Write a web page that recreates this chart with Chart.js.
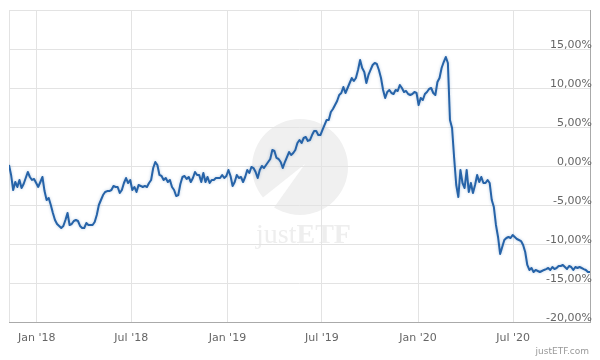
<!DOCTYPE html>
<html>
<head>
<meta charset="utf-8">
<title>justETF performance</title>
<style>
  html,body{margin:0;padding:0;background:#fff}
  #wrap{position:relative;width:600px;height:360px}
</style>
<script src="https://cdn.jsdelivr.net/npm/chart.js@4.4.1/dist/chart.umd.min.js"></script>
</head>
<body>
<div id="wrap"><canvas id="chart" width="600" height="360"></canvas></div>
<script>
// performance in %, one reading every 4 days from START
var START = '2017-11-09';
var STEP_DAYS = 4;
var perf = [
  0.13, -1.15, -3.08, -2.05, -2.69, -1.79, -2.82, -2.31, -1.54, -0.77,
  -1.41, -1.79, -1.67, -2.18, -2.69, -2.05, -1.41, -3.21, -4.36, -4.10,
  -5.00, -6.03, -6.92, -7.44, -7.69, -7.95, -7.69, -6.92, -6.03, -7.56,
  -7.44, -7.05, -6.92, -7.05, -7.69, -7.95, -7.95, -7.31, -7.56, -7.56,
  -7.56, -7.18, -6.28, -5.00, -4.36, -3.72, -3.33, -3.21, -3.21, -3.08,
  -2.56, -2.69, -2.69, -3.46, -3.08, -2.18, -1.54, -2.18, -1.79, -3.08,
  -2.69, -3.33, -2.44, -2.56, -2.69, -2.56, -2.69, -2.18, -1.79, -0.26,
  0.51, 0.13, -1.15, -1.28, -1.79, -1.54, -2.05, -1.79, -2.69, -3.08,
  -3.85, -3.72, -2.31, -1.41, -1.28, -1.67, -1.41, -2.05, -1.54, -0.77,
  -1.15, -1.15, -2.05, -0.90, -2.05, -1.41, -2.18, -1.79, -1.79, -1.54,
  -1.54, -1.54, -1.15, -1.54, -1.28, -0.51, -1.28, -2.56, -2.05, -1.15,
  -1.54, -1.41, -2.05, -1.41, -0.51, -0.90, -0.13, -0.26, -0.77, -1.54,
  -0.51, 0.00, -0.26, 0.13, 0.51, 0.90, 2.05, 1.92, 1.03, 0.90,
  0.51, -0.26, 0.51, 1.15, 1.79, 1.41, 1.67, 2.05, 2.95, 3.33,
  2.95, 3.59, 3.72, 3.21, 3.33, 3.97, 4.49, 4.49, 3.97, 3.97,
  4.62, 5.26, 5.90, 5.90, 6.92, 7.31, 7.82, 8.33, 9.10, 9.36,
  10.13, 9.36, 10.00, 10.64, 11.28, 10.90, 11.28, 12.31, 13.59, 12.56,
  12.05, 10.64, 11.67, 12.31, 12.95, 13.21, 13.08, 12.31, 11.28, 9.74,
  8.72, 9.49, 9.74, 9.36, 9.23, 9.74, 9.62, 10.38, 10.00, 9.49,
  9.62, 9.23, 9.10, 9.23, 9.49, 9.36, 7.82, 8.72, 8.46, 9.23,
  9.49, 9.87, 10.00, 9.36, 9.10, 10.77, 11.28, 12.56, 13.33, 13.97,
  13.21, 5.90, 4.87, 1.03, -2.44, -3.97, -0.51, -2.18, -2.82, -0.51,
  -3.33, -2.18, -3.46, -2.44, -1.15, -2.05, -1.41, -2.18, -2.18, -1.79,
  -2.18, -4.36, -5.26, -7.56, -9.10, -11.28, -10.38, -9.49, -9.23, -9.10,
  -9.23, -8.85, -9.10, -9.36, -9.49, -9.62, -10.13, -11.03, -12.69, -13.33,
  -13.08, -13.59, -13.33, -13.46, -13.59, -13.46, -13.33, -13.21, -13.08, -13.33,
  -12.95, -13.21, -13.08, -12.82, -12.82, -12.69, -12.95, -13.21, -12.82, -12.95,
  -13.33, -12.95, -13.08, -12.95, -13.08, -13.21, -13.33, -13.59, -13.59
];
var tickDates = ['2018-01-01', '2018-07-01', '2019-01-01', '2019-07-01', '2020-01-01', '2020-07-01'];
var tickLabels = ["Jan '18", "Jul '18", "Jan '19", "Jul '19", "Jan '20", "Jul '20"];
var yMin = -20, yMax = 20, yStep = 5;

(function(){
  function dayOf(d){ return Math.round((Date.parse(d) - Date.parse(START)) / 86400000) }
  function fmtPct(v){ return v.toFixed(2).replace('.', ',') + '%' }
  var tickDays = tickDates.map(dayOf);
  var points = perf.map(function(v, i){ return { x: i * STEP_DAYS, y: v } });

  var watermark = {
    id: 'watermark',
    beforeDraw: function(chart){
      var c = chart.ctx;
      c.save();
      c.fillStyle = '#f0f0f0';
      c.beginPath(); c.arc(300, 167, 48, 0, Math.PI * 2); c.fill();
      c.fillStyle = '#fff';
      c.beginPath(); c.moveTo(305, 164); c.lineTo(256, 203); c.lineTo(268, 216); c.closePath(); c.fill();
      c.fillStyle = '#eeeeee';
      c.textBaseline = 'alphabetic';
      c.font = '28px "Liberation Serif", "DejaVu Serif", serif';
      c.fillText('just', 256, 243);
      var w = c.measureText('just').width;
      c.font = 'bold 28px "Liberation Serif", "DejaVu Serif", serif';
      c.fillText('ETF', 256 + w, 243);
      c.restore();
    },
    beforeDatasetDraw: function(chart){
      var c = chart.ctx;
      c.save();
      c.shadowColor = 'rgba(40,100,170,0.35)';
      c.shadowBlur = 3;
    },
    afterDatasetDraw: function(chart){ chart.ctx.restore() },
    afterDraw: function(chart){
      var c = chart.ctx;
      c.save();
      c.fillStyle = '#999';
      c.font = '9px "DejaVu Sans", sans-serif';
      c.textAlign = 'right';
      c.textBaseline = 'middle';
      c.fillText('justETF.com', 589, 352);
      c.restore();
    }
  };

  Chart.defaults.font.family = '"DejaVu Sans", sans-serif';
  new Chart(document.getElementById('chart').getContext('2d'), {
    type: 'line',
    data: { datasets: [{
      data: points,
      borderColor: '#2663a8',
      borderWidth: 2,
      borderJoinStyle: 'round',
      pointRadius: 0,
      tension: 0,
      fill: false
    }]},
    options: {
      responsive: false,
      devicePixelRatio: 1,
      animation: false,
      layout: { padding: { left: 9, right: 10, top: 10, bottom: 16 } },
      plugins: { legend: { display: false }, tooltip: { enabled: false } },
      scales: {
        x: {
          type: 'linear',
          min: 0,
          max: (perf.length - 1) * STEP_DAYS,
          afterBuildTicks: function(s){ s.ticks = [{ value: 0 }].concat(tickDays.map(function(d){ return { value: d } })) },
          afterFit: function(s){ s.height = 22; s.paddingLeft = 0; s.paddingRight = 0 },
          ticks: {
            autoSkip: false, maxRotation: 0, padding: 10, color: '#666', font: { size: 11 },
            callback: function(v){ var i = tickDays.indexOf(v); return i < 0 ? '' : tickLabels[i] }
          },
          grid: { color: '#e3e3e3', drawTicks: false },
          border: { display: true, color: '#aaa' }
        },
        y: {
          position: 'right',
          min: yMin,
          max: yMax,
          afterFit: function(s){ s.width = 0; s.paddingTop = 0; s.paddingBottom = 0 },
          ticks: {
            stepSize: yStep, mirror: true, padding: 2, labelOffset: -4, color: '#666', font: { size: 11 },
            callback: function(v){ return v === yMax ? '' : fmtPct(v) }
          },
          grid: { color: '#e3e3e3', drawTicks: false },
          border: { display: true, color: '#aaa' }
        }
      }
    },
    plugins: [watermark]
  });
})();
</script>
</body>
</html>
